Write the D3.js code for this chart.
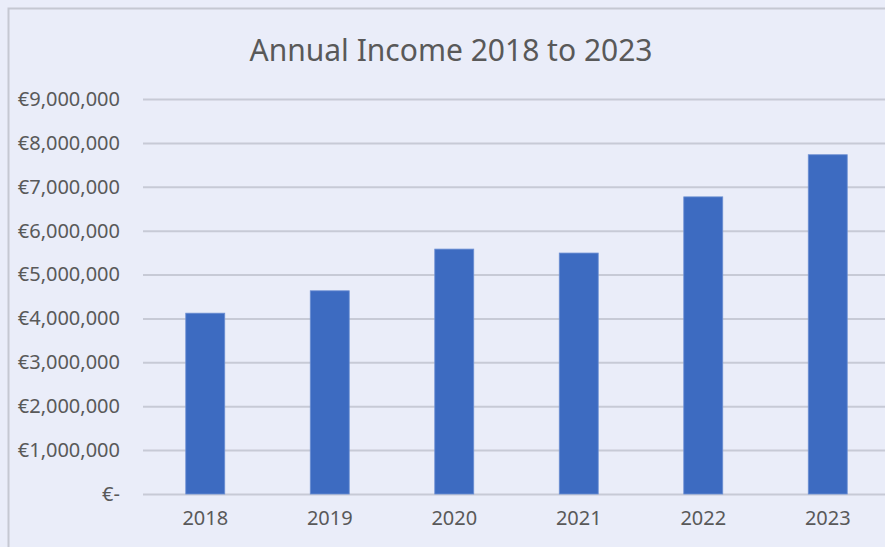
<!DOCTYPE html>
<html>
<head>
<meta charset="utf-8">
<script src="https://cdn.jsdelivr.net/npm/d3@7"></script>
<style>
  body { margin: 0; background: #eaedf9; }
  svg { display: block; font-family: "Noto Sans", "Open Sans", sans-serif; }
</style>
</head>
<body>
<div id="chart"></div>
<script>
// Annual income bar chart
const years = ["2018", "2019", "2020", "2021", "2022", "2023"];
const income = [4120000, 4630000, 5580000, 5490000, 6770000, 7730000];
const yTicks = [0, 1000000, 2000000, 3000000, 4000000, 5000000, 6000000, 7000000, 8000000, 9000000];

const width = 885,
    height = 547,
    margin = ({ top: 99, right: -5, bottom: 53, left: 143 });

const svg = d3.select("#chart")
    .append("svg")
    .attr("width", width)
    .attr("height", height);

// chart background + border
svg.append("rect")
    .attr("x", 8.5)
    .attr("y", 8.5)
    .attr("width", width + 10)
    .attr("height", height + 10)
    .attr("fill", "#eaedf9")
    .attr("stroke", "#c5c8d2")
    .attr("stroke-width", 2);

let x = d3.scaleBand()
    .domain(years)
    .range([margin.left, width - margin.right])
    .paddingInner(0.687)
    .paddingOuter(0.3435);

let y = d3.scaleLinear()
    .domain([0, 9000000])
    .range([height - margin.bottom, margin.top]);

const fmt = d => d === 0 ? "€-" : "€" + d3.format(",")(d);

// gridlines + y labels
const yAxis = svg.append("g")
    .attr("transform", `translate(${margin.left},0)`)
    .call(d3.axisLeft(y).tickValues(yTicks).tickFormat(fmt)
        .tickSize(-(width - margin.left - margin.right)).tickPadding(23))
    .attr("font-family", null)
    .attr("font-size", null);
yAxis.select(".domain").remove();
yAxis.selectAll(".tick line").attr("stroke", "#c7cad6").attr("stroke-width", 2);
yAxis.selectAll(".tick text")
    .attr("fill", "#595959")
    .style("font-size", "20px");

// bars
svg.append("g")
    .selectAll("rect")
    .data(income)
    .join("rect")
    .attr("x", (d, i) => x(years[i]))
    .attr("y", d => y(d))
    .attr("width", x.bandwidth())
    .attr("height", d => y(0) - y(d))
    .attr("fill", "#3d6bc1")
    .attr("stroke", "#6c8fd3")
    .attr("stroke-width", 0.8);

// x labels
const xAxis = svg.append("g")
    .attr("transform", `translate(0,${height - margin.bottom})`)
    .call(d3.axisBottom(x).tickSize(0).tickPadding(17))
    .attr("font-family", null)
    .attr("font-size", null);
xAxis.select(".domain").remove();
xAxis.selectAll(".tick text")
    .attr("fill", "#595959")
    .style("font-size", "20px");

// title
svg.append("text")
    .attr("x", 451)
    .attr("y", 61)
    .attr("text-anchor", "middle")
    .attr("fill", "#595959")
    .style("font-size", "30px")
    .text("Annual Income 2018 to 2023");
</script>
</body>
</html>
